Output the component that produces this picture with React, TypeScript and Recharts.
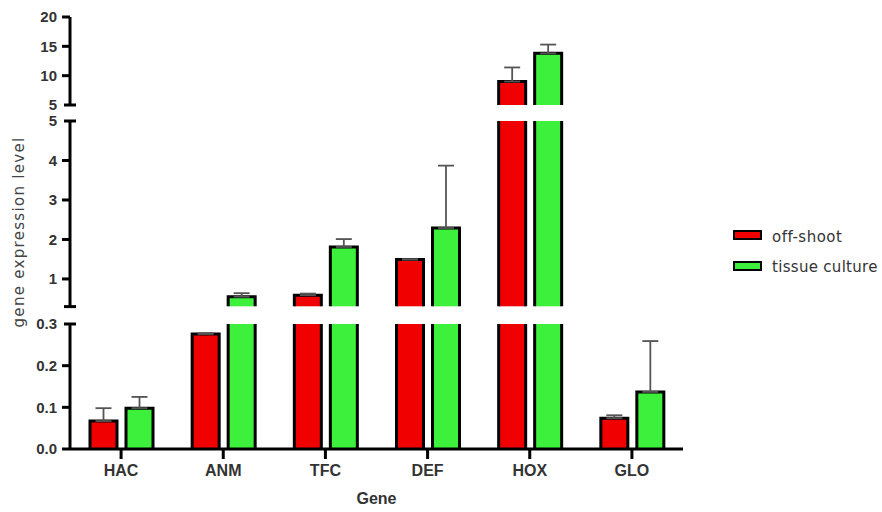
import React from 'react';
import { BarChart, Bar, XAxis, YAxis, ErrorBar, Label } from 'recharts';

// values
const genes = ['HAC', 'ANM', 'TFC', 'DEF', 'HOX', 'GLO'];
const offShoot = [0.067, 0.276, 0.59, 1.49, 9.0, 0.074];
const offShootErr = [0.031, 0.002, 0.04, 0.01, 2.4, 0.007];
const tissueCulture = [0.098, 0.55, 1.81, 2.29, 13.8, 0.137];
const tissueCultureErr = [0.027, 0.09, 0.2, 1.58, 1.5, 0.122];

// broken y axis: three segments, top to bottom
const topTicks = [5, 10, 15, 20];
const midTicks = [0.3, 1, 2, 3, 4, 5];
const lowTicks = [0, 0.1, 0.2, 0.3];

const RED = '#f00000';
const GREEN = '#3cf03c';
const TICK_FONT = '"Liberation Sans", Arial, sans-serif';
const TEXT_FONT = '"DejaVu Sans", Verdana, sans-serif';

const W = 882;
const MARGIN_RIGHT = 199;

// one row per gene; a bar that ends below a segment is left out of it,
// and the error bar is only kept in the segment where the bar ends
function segmentRows(lo: number, hi: number) {
  const inSeg = (v: number) => v >= lo && v <= hi;
  return genes.map((gene, i) => ({
    gene,
    off: offShoot[i] >= lo ? offShoot[i] : null,
    tis: tissueCulture[i] >= lo ? tissueCulture[i] : null,
    offErr: inSeg(offShoot[i]) ? [0, offShootErr[i]] : undefined,
    tisErr: inSeg(tissueCulture[i]) ? [0, tissueCultureErr[i]] : undefined,
  }));
}

// bar with black sides + top, no base edge (so the cut at the break stays open)
function OpenBar(props: any) {
  const { x, y, width, height, fill } = props;
  if (x == null || y == null || !height) return null;
  const yb = y + height;
  const top = Math.min(y, yb);
  const h = Math.abs(height);
  return (
    <g>
      <rect x={x} y={top} width={width} height={h} fill={fill} />
      <path
        d={`M${x},${yb} L${x},${y} L${x + width},${y} L${x + width},${yb}`}
        fill="none"
        stroke="#000"
        strokeWidth={3}
      />
    </g>
  );
}

const TICK_SIZE = 8;
const TICK_MARGIN = 4;

function makeTick(caps: number[], noLabel: number[], digits: number) {
  const near = (a: number, list: number[]) => list.some((b) => Math.abs(a - b) < 1e-9);
  return function YTick(props: any) {
    const { x, y, payload } = props;
    const v = payload.value as number;
    const ax = x + TICK_SIZE + TICK_MARGIN;
    const cap = near(v, caps);
    return (
      <g>
        <line
          x1={cap ? ax - 6 : ax - TICK_SIZE}
          x2={cap ? ax + 6 : ax}
          y1={y}
          y2={y}
          stroke="#000"
          strokeWidth={3}
        />
        {!near(v, noLabel) && (
          <text
            x={x - 1}
            y={y}
            dy="0.36em"
            textAnchor="end"
            fill="#333"
            fontSize={15}
            fontWeight="bold"
            fontFamily={TICK_FONT}
          >
            {v.toFixed(digits)}
          </text>
        )}
      </g>
    );
  };
}

function Segment(props: {
  top: number;
  height: number;
  margin: { top: number; bottom: number };
  domain: [number, number];
  ticks: number[];
  caps: number[];
  noLabel: number[];
  digits: number;
  showX?: boolean;
}) {
  const { top, height, margin, domain, ticks, caps, noLabel, digits, showX } = props;
  const data = segmentRows(domain[0], domain[1]);
  return (
    <div style={{ position: 'absolute', left: 0, top, width: W, height }}>
      <BarChart
        width={W}
        height={height}
        data={data}
        margin={{ top: margin.top, bottom: margin.bottom, left: 0, right: MARGIN_RIGHT }}
        barSize={27}
        barGap={9}
      >
        {showX ? (
          <XAxis
            dataKey="gene"
            height={63}
            interval={0}
            axisLine={{ stroke: '#000', strokeWidth: 3 }}
            tickLine={{ stroke: '#000', strokeWidth: 3 }}
            tickSize={10}
            tickMargin={6}
            tick={{ fill: '#333', fontSize: 16, fontWeight: 'bold', fontFamily: TICK_FONT }}
          >
            <Label
              value="Gene"
              position="insideBottom"
              offset={8}
              fill="#333"
              fontSize={16}
              fontWeight="bold"
              fontFamily={TICK_FONT}
            />
          </XAxis>
        ) : (
          <XAxis dataKey="gene" hide />
        )}
        <YAxis
          type="number"
          domain={domain}
          ticks={ticks}
          interval={0}
          allowDataOverflow
          width={70}
          axisLine={{ stroke: '#000', strokeWidth: 3 }}
          tickLine={false}
          tickSize={TICK_SIZE}
          tickMargin={TICK_MARGIN}
          tick={makeTick(caps, noLabel, digits)}
        />
        <Bar dataKey="off" name="off-shoot" fill={RED} shape={OpenBar} isAnimationActive={false}>
          <ErrorBar dataKey="offErr" width={8} stroke="#555" strokeWidth={1.8} direction="y" />
        </Bar>
        <Bar dataKey="tis" name="tissue culture" fill={GREEN} shape={OpenBar} isAnimationActive={false}>
          <ErrorBar dataKey="tisErr" width={8} stroke="#555" strokeWidth={1.8} direction="y" />
        </Bar>
      </BarChart>
    </div>
  );
}

export default function App() {
  return (
    <div style={{ position: 'absolute', left: 0, top: 0, width: W, height: 512, background: '#fff' }}>
      <Segment
        top={0}
        height={112}
        margin={{ top: 17, bottom: 7 }}
        domain={[5, 20]}
        ticks={topTicks}
        caps={[5]}
        noLabel={[]}
        digits={0}
      />
      <Segment
        top={112}
        height={200}
        margin={{ top: 9, bottom: 5.4 }}
        domain={[0.3, 5]}
        ticks={midTicks}
        caps={[0.3, 5]}
        noLabel={[0.3]}
        digits={0}
      />
      <Segment
        top={312}
        height={200}
        margin={{ top: 12, bottom: 0 }}
        domain={[0, 0.3]}
        ticks={lowTicks}
        caps={[0.3]}
        noLabel={[]}
        digits={1}
        showX
      />
      <svg
        width={W}
        height={512}
        style={{ position: 'absolute', left: 0, top: 0, pointerEvents: 'none' }}
      >
        <text
          x={19}
          y={232}
          transform="rotate(-90 19 232)"
          textAnchor="middle"
          dominantBaseline="central"
          fontSize={15}
          letterSpacing={1.3}
          fill="#444"
          fontFamily={TEXT_FONT}
        >
          gene expression level
        </text>
        <rect x={734} y={231} width={27} height={8} fill={RED} stroke="#000" strokeWidth={2} />
        <text x={772} y={242} fontSize={15} letterSpacing={0.5} fill="#333" fontFamily={TEXT_FONT}>
          off-shoot
        </text>
        <rect x={734} y={262} width={27} height={8} fill={GREEN} stroke="#000" strokeWidth={2} />
        <text x={772} y={272} fontSize={15} letterSpacing={0.3} fill="#333" fontFamily={TEXT_FONT}>
          tissue culture
        </text>
      </svg>
    </div>
  );
}
